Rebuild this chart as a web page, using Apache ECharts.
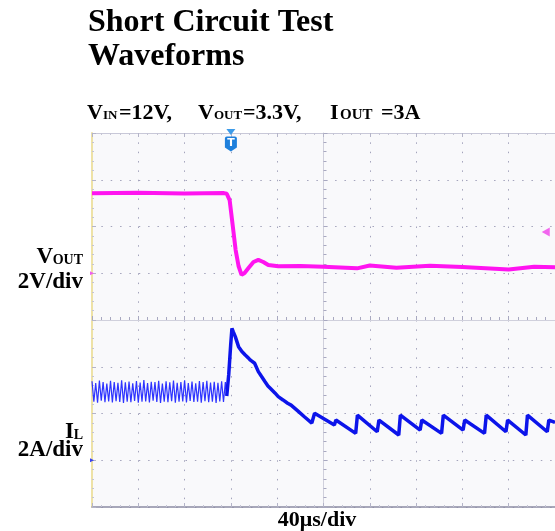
<!DOCTYPE html>
<html>
<head>
<meta charset="utf-8">
<script src="https://cdn.jsdelivr.net/npm/echarts/dist/echarts.min.js"></script>
<style>
  html, body { margin: 0; padding: 0; background: #fff; }
  #chart { width: 555px; height: 531px; }
</style>
</head>
<body>
<div id="chart"></div>
<script>
// time axis in µs, 40 µs/div, trigger at t = 0
const timeMin = -120, timeMax = 280, timeStep = 40;
// CH1 Vout: 2 V/div, ground one division above centre
const voutMin = -10, voutMax = 6, voutStep = 2;
// CH2 inductor current: 2 A/div, ground three divisions below centre
const ilMin = -2, ilMax = 14, ilStep = 2;

// Vout trace (µs, V)
const voutTimes = [-120, -80, -40, -6, -3.6, -1.1, 1.5, 4.1, 6.6, 9.2,
  11.8, 15.2, 19.5, 23.7, 28, 32.3, 40.9, 60, 80, 109,
  120, 143, 172, 200, 240, 262, 280];
const voutValues = [3.42, 3.44, 3.41, 3.43, 3.40, 3.13, 2.07, 0.99, 0.31, -0.07,
  0.01, 0.22, 0.48, 0.57, 0.48, 0.35, 0.30, 0.31, 0.28, 0.21,
  0.33, 0.24, 0.32, 0.27, 0.16, 0.28, 0.26];

// IL switching ripple before the short (µs, A)
const rippleTimes = [-120, -118.4, -116.8, -115.2, -113.6, -112, -110.4, -108.8, -107.2, -105.6,
  -104, -102.4, -100.8, -99.2, -97.6, -96, -94.4, -92.8, -91.2, -89.6,
  -88, -86.4, -84.8, -83.2, -81.6, -80, -78.4, -76.8, -75.2, -73.6,
  -72, -70.4, -68.8, -67.2, -65.6, -64, -62.4, -60.8, -59.2, -57.6,
  -56, -54.4, -52.8, -51.2, -49.6, -48, -46.4, -44.8, -43.2, -41.6,
  -40, -38.4, -36.8, -35.2, -33.6, -32, -30.4, -28.8, -27.2, -25.6,
  -24, -22.4, -20.8, -19.2, -17.6, -16, -14.4, -12.8, -11.2, -9.6,
  -8, -6.4, -4.8, -3.6];
const rippleAmps = [3.38, 2.50, 3.30, 2.46, 3.41, 2.55, 3.34, 2.48, 3.28, 2.52,
  3.40, 2.47, 3.35, 2.53, 3.31, 2.49, 3.42, 2.45, 3.33, 2.51,
  3.37, 2.48, 3.29, 2.54, 3.39, 2.46, 3.32, 2.50, 3.43, 2.52,
  3.30, 2.47, 3.36, 2.55, 3.34, 2.49, 3.40, 2.45, 3.28, 2.51,
  3.38, 2.48, 3.33, 2.53, 3.41, 2.46, 3.31, 2.50, 3.35, 2.52,
  3.42, 2.47, 3.30, 2.54, 3.37, 2.49, 3.29, 2.51, 3.39, 2.46,
  3.34, 2.53, 3.40, 2.48, 3.32, 2.50, 3.36, 2.45, 3.31, 2.52,
  3.38, 2.49, 3.35, 2.75];

// IL after the short: spike, decay, then hiccup sawtooth (µs, A)
const ilTimes = [-3.6, -1.9, -0.2, 0.9, 2.0, 3.8, 6.6, 9.5, 12.4, 15.0,
  16.9, 18.6, 20.5, 23.7, 26.5, 29.5, 32.0, 34.0, 35.7, 38.0,
  40.9, 45.0, 49.0, 52.0, 53.7, 58.0, 63.7, 69.9, 72.3, 89.4,
  90.7, 107.8, 109.3, 126.4, 127.9, 145.0, 146.4, 163.5, 164.9, 182.0,
  183.5, 200.6, 202.0, 219.1, 220.6, 237.6, 239.1, 254.8, 256.2, 273.3,
  274.7, 280];
const ilAmps = [2.75, 3.65, 4.93, 5.64, 5.50, 5.29, 4.86, 4.65, 4.50, 4.38,
  4.28, 4.33, 4.15, 3.79, 3.58, 3.36, 3.18, 3.08, 3.10, 2.88,
  2.72, 2.58, 2.44, 2.36, 2.40, 2.10, 1.85, 1.59, 2.01, 1.51,
  1.72, 1.15, 1.93, 1.22, 1.72, 1.08, 1.93, 1.29, 1.72, 1.15,
  1.93, 1.29, 1.72, 1.15, 1.93, 1.22, 1.72, 1.08, 1.93, 1.22,
  1.72, 1.62];

// trigger level marker on CH1 (V)
const triggerLevel = 1.76;

const pairs = (xs, ys) => xs.map((x, i) => [x, ys[i]]);

const serif = '"Liberation Serif", "Times New Roman", serif';
// text placed by its baseline
function txt(x, baseline, text, size, align) {
  return {
    type: 'text',
    x: x,
    y: baseline - 0.3375 * size,
    silent: true,
    style: {
      text: text,
      font: 'bold ' + size + 'px ' + serif,
      fill: '#000',
      align: align || 'left',
      verticalAlign: 'middle'
    }
  };
}

const dotted = { color: '#a4a4bc', width: 1, type: [1.5, 7.85], dashOffset: 0 };
const frameTick = { show: true, inside: true, length: 4, lineStyle: { color: '#b4b4c8' } };
const frameMinor = { show: true, splitNumber: 5, length: 2, lineStyle: { color: '#c4c4d4' } };
const noLabel = { show: false };

const chart = echarts.init(document.getElementById('chart'));
const option = {
  animation: false,
  backgroundColor: '#fff',
  grid: {
    left: 92, top: 133, width: 467, height: 374,
    show: true, backgroundColor: '#f9f9fb', borderWidth: 0
  },
  xAxis: [
    { // top frame
      type: 'value', position: 'top', min: -5, max: 5, interval: 1,
      axisLine: { onZero: false, lineStyle: { color: '#c8c8d8' } },
      axisTick: frameTick, minorTick: frameMinor, axisLabel: noLabel, splitLine: { show: false }
    },
    { // bottom frame
      type: 'value', position: 'bottom', min: -5, max: 5, interval: 1,
      axisLine: { onZero: false, lineStyle: { color: '#8c8ca4', width: 1.5 } },
      axisTick: frameTick, minorTick: frameMinor, axisLabel: noLabel, splitLine: { show: false }
    },
    { // centre cross + graticule
      type: 'value', position: 'bottom', min: -5, max: 5, interval: 1,
      axisLine: { onZero: true, onZeroAxisIndex: 1, lineStyle: { color: '#d0d0dc' } },
      axisTick: { show: true, inside: true, length: 4, lineStyle: { color: '#a8a8c0' } },
      minorTick: { show: true, splitNumber: 5, length: 3, lineStyle: { color: '#a8a8c0' } },
      axisLabel: noLabel,
      splitLine: { show: true, lineStyle: dotted }
    },
    { // time, µs
      type: 'value', show: false, min: timeMin, max: timeMax, interval: timeStep
    }
  ],
  yAxis: [
    { // left frame
      type: 'value', position: 'left', min: -4, max: 4, interval: 1,
      axisLine: { show: true, onZero: false, lineStyle: { color: '#eee2a6', width: 2 } },
      axisTick: frameTick, minorTick: frameMinor, axisLabel: noLabel, splitLine: { show: false }
    },
    { // centre cross + graticule
      type: 'value', position: 'left', min: -4, max: 4, interval: 1,
      axisLine: { show: true, onZero: true, onZeroAxisIndex: 2, lineStyle: { color: '#d0d0dc' } },
      axisTick: { show: true, inside: true, length: 4, lineStyle: { color: '#a8a8c0' } },
      minorTick: { show: true, splitNumber: 5, length: 3, lineStyle: { color: '#a8a8c0' } },
      axisLabel: noLabel,
      splitLine: { show: true, lineStyle: dotted }
    },
    { type: 'value', show: false, min: voutMin, max: voutMax, interval: voutStep },
    { type: 'value', show: false, min: ilMin, max: ilMax, interval: ilStep }
  ],
  series: [
    {
      name: 'VOUT', type: 'line', xAxisIndex: 3, yAxisIndex: 2,
      data: pairs(voutTimes, voutValues),
      symbol: 'none', clip: false,
      lineStyle: { color: '#ff14f0', width: 4 },
      markPoint: {
        silent: true,
        data: [
          { // trigger position arrow
            coord: [0, voutMax], symbol: 'triangle', symbolRotate: 180,
            symbolSize: [9, 6], symbolOffset: [0, -1],
            itemStyle: { color: '#3d9be9' }, label: { show: false }
          },
          { // trigger "T" badge
            coord: [0, voutMax],
            symbol: 'path://M0,2 Q0,0 2,0 L10,0 Q12,0 12,2 L12,11 L6,15 L0,11 Z',
            symbolSize: [12, 15], symbolOffset: [0, 11], symbolKeepAspect: false,
            itemStyle: { color: '#1f80dc' },
            label: { show: true, formatter: 'T', color: '#fff', fontSize: 11,
              fontWeight: 'bold', fontFamily: 'DejaVu Sans', offset: [0, -1] }
          },
          { // trigger level arrow
            coord: [272, triggerLevel], symbol: 'triangle', symbolRotate: 90,
            symbolSize: [9, 8], itemStyle: { color: '#f266ee' }, label: { show: false }
          },
          { // ch1 ground marker
            coord: [timeMin, 0], symbol: 'triangle', symbolRotate: -90,
            symbolSize: [4, 4], itemStyle: { color: '#f060ee' }, label: { show: false }
          }
        ]
      }
    },
    {
      name: 'IL', type: 'line', xAxisIndex: 3, yAxisIndex: 3,
      data: pairs(rippleTimes, rippleAmps),
      symbol: 'none',
      lineStyle: { color: '#2e34ff', width: 1.2 }
    },
    {
      name: 'IL', type: 'line', xAxisIndex: 3, yAxisIndex: 3,
      data: pairs(ilTimes, ilAmps),
      symbol: 'none', clip: false,
      lineStyle: { color: '#0c14ea', width: 3.5 },
      markPoint: {
        silent: true,
        data: [
          { // ch2 ground marker
            coord: [timeMin, 0], symbol: 'triangle', symbolRotate: -90,
            symbolSize: [4, 4], itemStyle: { color: '#3a44ee' }, label: { show: false }
          }
        ]
      }
    }
  ],
  graphic: [
    txt(88, 34, 'Short Circuit Test', 32),
    txt(88, 68, 'Waveforms', 32),

    txt(87, 120.5, 'V', 22),
    txt(103, 120.5, 'IN', 13),
    txt(119, 120.5, '=12V,', 22),
    txt(198, 120.5, 'V', 22),
    txt(214, 120.5, 'OUT', 13),
    txt(243, 120.5, '=3.3V,', 22),
    txt(330, 120.5, 'I', 22),
    txt(340, 120.5, 'OUT', 15),
    txt(381, 120.5, '=3A', 22),

    txt(53, 265, 'V', 23, 'right'),
    txt(83, 265, 'OUT', 14, 'right'),
    txt(83, 290, '2V/div', 23, 'right'),
    txt(74, 440, 'I', 23, 'right'),
    txt(83, 440, 'L', 14, 'right'),
    txt(83, 458, '2A/div', 23, 'right'),

    txt(317, 528, '40μs/div', 22, 'center')
  ]
};
chart.setOption(option);
</script>
</body>
</html>
